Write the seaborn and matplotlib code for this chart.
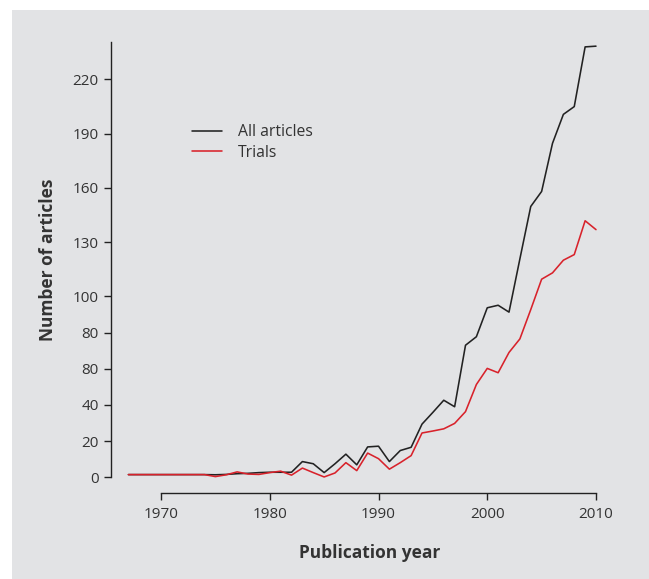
import matplotlib
matplotlib.use("Agg")
import matplotlib.pyplot as plt
from matplotlib.patches import Rectangle
import seaborn as sns
import pandas as pd

# ----------------- DATA -----------------
years = list(range(1967, 2011))

all_articles = [1.5, 1.5, 1.5, 1.5, 1.5, 1.5, 1.5, 1.5, 1.4, 1.6,
                2.0, 2.2, 2.6, 2.8, 2.8, 2.8, 8.7, 7.5, 2.6, 7.5,
                12.8, 6.9, 16.8, 17.2, 8.7, 14.8, 16.6, 29.4, 35.9, 42.6,
                39.0, 73.0, 77.7, 93.7, 95.1, 91.3, 120.7, 149.7, 158.0, 184.6,
                200.6, 204.9, 237.9, 238.3]

trials = [1.5, 1.5, 1.5, 1.5, 1.5, 1.5, 1.5, 1.5, 0.4, 1.4,
          3.0, 1.8, 1.6, 2.6, 3.4, 1.2, 5.1, 2.6, 0.2, 2.4,
          8.1, 3.7, 13.4, 10.3, 4.5, 8.1, 12.0, 24.5, 25.6, 26.8,
          29.8, 36.3, 51.3, 60.2, 57.8, 69.0, 76.5, 92.7, 109.5, 113.0,
          120.0, 123.1, 141.8, 136.9]

series_names = ["All articles", "Trials"]
series_colors = ["#222222", "#d8222b"]

x_ticks = [1970, 1980, 1990, 2000, 2010]
y_ticks = [0, 20, 40, 60, 80, 100, 130, 160, 190, 220]
# labels exactly as printed on the original figure
y_tick_labels = ["0", "20", "40", "80", "80", "100", "130", "160", "190", "220"]

# ----------------- BUILD FRAME -----------------
df = pd.DataFrame({
    "year": years * 2,
    "count": all_articles + trials,
    "series": [series_names[0]] * len(years) + [series_names[1]] * len(years),
})

# ----------------- PLOT -----------------
sns.set_theme(style="ticks")
plt.rcParams["font.family"] = ["Open Sans", "DejaVu Sans"]

W, H = 649, 579
fig = plt.figure(figsize=(W / 100, H / 100), dpi=100, facecolor="white")
bg = "#e2e3e5"
fig.patches.append(Rectangle((12 / W, -0.05), 1.1, 1.05 - 10 / H, transform=fig.transFigure,
                             facecolor=bg, edgecolor="none", zorder=-10))

ax = fig.add_axes([111 / W, 1 - 493 / H, (601 - 111) / W, (493 - 42) / H])
ax.set_facecolor("none")

sns.lineplot(data=df, x="year", y="count", hue="series",
             palette=dict(zip(series_names, series_colors)),
             linewidth=1.15, ax=ax)

ax.set_xlim(1965.4, 2010.46)
ax.set_ylim(-8.67, 240.6)

for side in ["top", "right"]:
    ax.spines[side].set_visible(False)
ax.spines["bottom"].set_bounds(1970, 2010)
ax.spines["left"].set_bounds(0, 240.6)
for side in ["bottom", "left"]:
    ax.spines[side].set_color("#222222")
    ax.spines[side].set_linewidth(1.0)

ax.set_xticks(x_ticks)
ax.set_xticklabels([str(t) for t in x_ticks])
ax.set_yticks(y_ticks)
ax.set_yticklabels(y_tick_labels)
ax.tick_params(axis="both", direction="out", length=5, width=1.0, color="#222222",
               labelsize=11, labelcolor="#333333", pad=4)
ax.tick_params(axis="x", pad=5)

ax.set_xlabel("")
ax.set_ylabel("")
fig.text(370 / W, 1 - 553 / H, "Publication year", ha="center", va="center",
         fontsize=12.5, fontweight="bold", color="#333333")
fig.text(48 / W, 1 - 260 / H, "Number of articles", ha="center", va="center",
         rotation=90, fontsize=12.5, fontweight="bold", color="#333333")

ax.legend(loc="upper left", bbox_to_anchor=(192 / W, 1 - 124 / H),
          bbox_transform=fig.transFigure, frameon=False, fontsize=11.3,
          handlelength=1.9, handletextpad=1.0, labelspacing=0.3,
          borderpad=0, borderaxespad=0, title=None)
for t in ax.get_legend().get_texts():
    t.set_color("#333333")

fig.savefig("out.png", dpi=100, facecolor=fig.get_facecolor())
